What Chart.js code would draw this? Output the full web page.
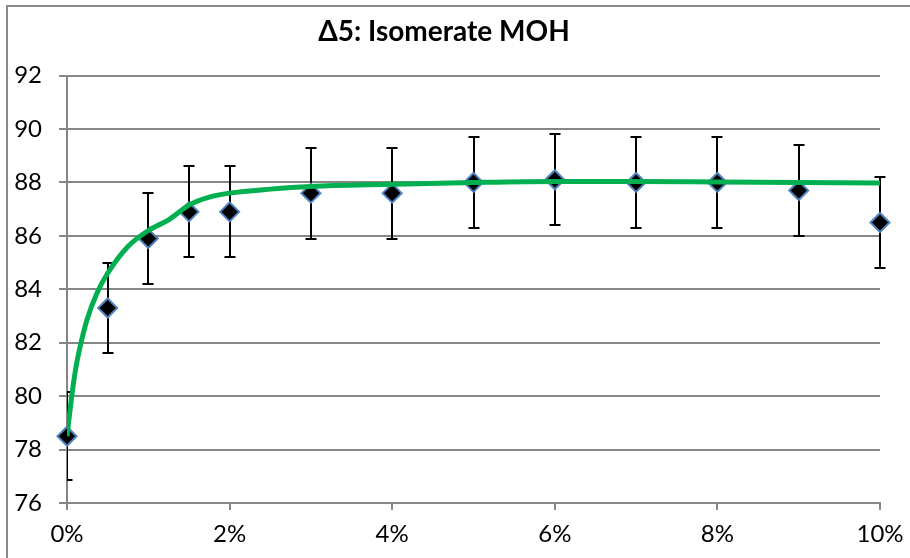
<!DOCTYPE html>
<html>
<head>
<meta charset="utf-8">
<script src="https://cdn.jsdelivr.net/npm/chart.js@4"></script>
<style>
    html, body { margin: 0; padding: 0; background: #fff; }
    #wrap { width: 910px; height: 558px; }
</style>
</head>
<body>
<div id="wrap"><canvas id="chart"></canvas></div>
<script>
// Measured points (x in %)
const pointX = [0, 0.5, 1, 1.5, 2, 3, 4, 5, 6, 7, 8, 9, 10];
const pointY = [78.5, 83.3, 85.9, 86.9, 86.9, 87.6, 87.6, 88.0, 88.1, 88.0, 88.0, 87.7, 86.5];
const pointErr = [1.65, 1.7, 1.7, 1.7, 1.7, 1.7, 1.7, 1.7, 1.7, 1.7, 1.7, 1.7, 1.7];

// Fitted curve (green)
const curveX = [0, 0.05, 0.1, 0.15, 0.25, 0.375, 0.5, 0.75, 1, 1.25, 1.5, 1.75, 2, 2.5, 3, 4, 5, 6, 7, 8, 9, 10];
const curveY = [78.5, 79.8, 80.9, 81.7, 82.9, 83.9, 84.6, 85.6, 86.2, 86.6, 87.15, 87.45, 87.6, 87.75, 87.85, 87.93, 88.0, 88.04, 88.04, 88.02, 88.0, 87.98];

const titleText = 'Δ5: Isomerate MOH';
const fontFamily = 'Lato, "Open Sans", sans-serif';

// Error bars + outer frame
const errorBars = {
    id: 'errorBars',
    beforeDraw(chart) {
        const ctx = chart.ctx;
        ctx.save();
        ctx.strokeStyle = '#8c8c8c';
        ctx.lineWidth = 2;
        ctx.strokeRect(7, 6, 1000, 1000);
        ctx.restore();
    },
    beforeDatasetsDraw(chart) {
        const ctx = chart.ctx;
        const xs = chart.scales.x, ys = chart.scales.y;
        const area = chart.chartArea;
        ctx.save();
        ctx.beginPath();
        ctx.rect(area.left, 0, chart.width, chart.height);
        ctx.clip();
        ctx.strokeStyle = '#000';
        ctx.lineWidth = 2;
        pointX.forEach((x, i) => {
            const px = Math.round(xs.getPixelForValue(x));
            const top = Math.round(ys.getPixelForValue(pointY[i] + pointErr[i]));
            const bot = Math.round(ys.getPixelForValue(pointY[i] - pointErr[i]));
            ctx.beginPath();
            ctx.moveTo(px, top);
            ctx.lineTo(px, bot);
            ctx.moveTo(px - 5.5, top);
            ctx.lineTo(px + 5.5, top);
            ctx.moveTo(px - 5.5, bot);
            ctx.lineTo(px + 5.5, bot);
            ctx.stroke();
        });
        ctx.restore();
    }
};

new Chart(document.getElementById('chart'), {
    type: 'scatter',
    data: {
        datasets: [
            {
                label: 'Fit',
                data: curveX.map((x, i) => ({ x: x, y: curveY[i] })),
                showLine: true,
                borderColor: '#00b050',
                borderWidth: 5,
                pointRadius: 0,
                cubicInterpolationMode: 'monotone',
                order: 0
            },
            {
                label: 'MOH',
                data: pointX.map((x, i) => ({ x: x, y: pointY[i] })),
                pointStyle: 'rectRot',
                pointRadius: 9.5,
                backgroundColor: '#000',
                borderColor: '#4f81bd',
                borderWidth: 2,
                clip: false,
                order: 1
            }
        ]
    },
    options: {
        responsive: true,
        maintainAspectRatio: false,
        animation: false,
        layout: { padding: { left: 8, right: 30, top: 0, bottom: 0 } },
        plugins: {
            legend: { display: false },
            tooltip: { enabled: false },
            title: {
                display: true,
                text: titleText,
                color: '#000',
                font: { family: fontFamily, size: 28, weight: 'bold' },
                padding: { top: 15, bottom: 27 }
            }
        },
        scales: {
            x: {
                type: 'linear',
                min: 0,
                max: 10,
                afterFit(scale) {
                    scale.height = 55;
                    scale.paddingLeft = 0;
                    scale.paddingRight = 0;
                },
                border: { color: '#868686', width: 2 },
                grid: { drawOnChartArea: false, drawTicks: true, tickLength: 7, color: '#868686', lineWidth: 2 },
                ticks: {
                    stepSize: 2,
                    padding: 10,
                    color: '#000',
                    font: { family: fontFamily, size: 24 },
                    callback: v => v + '%'
                }
            },
            y: {
                min: 76,
                max: 92,
                afterFit(scale) { scale.width = 59; },
                border: { color: '#868686', width: 2 },
                grid: { color: '#868686', lineWidth: 2, tickLength: 8 },
                ticks: {
                    stepSize: 2,
                    padding: 17,
                    color: '#000',
                    font: { family: fontFamily, size: 24 }
                }
            }
        }
    },
    plugins: [errorBars]
});
</script>
</body>
</html>
